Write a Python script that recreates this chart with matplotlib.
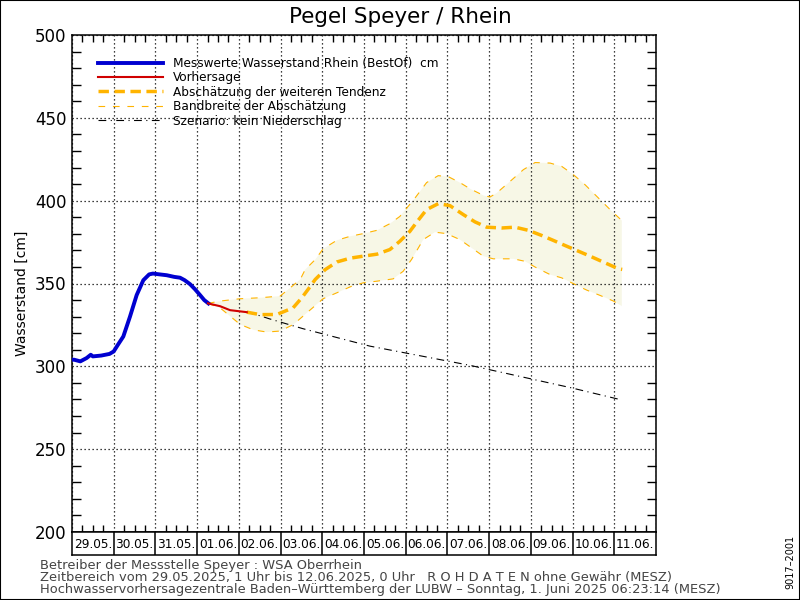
import matplotlib
matplotlib.use("Agg")
from matplotlib import pyplot as plt
from matplotlib.ticker import MultipleLocator
from matplotlib.patches import Rectangle

# time axis: days since 29.05.2025 00:00
day_labels = ["29.05.", "30.05.", "31.05.", "01.06.", "02.06.", "03.06.", "04.06.",
              "05.06.", "06.06.", "07.06.", "08.06.", "09.06.", "10.06.", "11.06."]

# measured water level [cm]
meas_t = [0.0, 0.05, 0.2, 0.35, 0.45, 0.5, 0.7, 0.9, 1.0, 1.1, 1.23, 1.39, 1.55, 1.71,
          1.85, 1.94, 2.1, 2.27, 2.45, 2.59, 2.7, 2.83, 2.95, 3.07, 3.17, 3.27]
meas_v = [304, 304, 303, 305, 307, 306, 306.5, 307.5, 309, 313, 318, 330, 343, 352,
          355.5, 356, 355.5, 355, 354, 353.5, 352, 349.6, 346.5, 343, 340, 338]

# forecast
fc_t = [3.26, 3.43, 3.55, 3.79, 4.19]
fc_v = [338, 337, 336.3, 333.9, 332.7]

# estimated further tendency
tend_t = [4.19, 4.51, 4.91, 5.30, 5.51, 5.67, 5.83, 6.07, 6.35, 6.67, 6.98, 7.31, 7.62,
          7.86, 8.10, 8.30, 8.50, 8.78, 9.06, 9.38, 9.66, 9.94, 10.30, 10.62, 10.94,
          11.26, 11.54, 11.86, 12.14, 12.42, 12.74, 13.10, 13.19]
tend_v = [332.7, 331.2, 331.3, 335.3, 341.4, 346.8, 352.4, 358.4, 363, 365.3, 366.5,
          367.7, 370.5, 375.5, 381.5, 388.2, 394.6, 398.2, 397, 391.6, 387.2, 384,
          383.5, 384, 382.1, 379, 376, 372.5, 369.5, 366.5, 362.9, 358.9, 358.5]

# range of the estimate
up_t = [3.26, 3.55, 4.03, 4.51, 4.99, 5.47, 5.59, 5.83, 6.02, 6.35, 6.67, 6.98, 7.31,
        7.62, 7.86, 8.22, 8.50, 8.78, 9.02, 9.30, 9.54, 9.86, 10.02, 10.18, 10.50,
        10.82, 11.10, 11.46, 11.74, 12.02, 12.30, 12.58, 12.90, 13.18]
up_v = [338, 339.4, 340.8, 341.4, 342.4, 352.4, 358.4, 364.4, 370.9, 376.1, 378.5,
        380.1, 382.1, 386.1, 390.5, 401.5, 410.9, 415.1, 414.5, 410.9, 407.2, 403.2,
        402.2, 404.6, 411.6, 418.7, 423, 422.7, 420.7, 415.7, 409.6, 402.6, 394.6, 388]
lo_t = [3.26, 3.55, 4.03, 4.35, 4.67, 4.99, 5.31, 5.63, 6.02, 6.35, 6.67, 6.98, 7.31,
        7.70, 7.94, 8.14, 8.42, 8.70, 8.98, 9.30, 9.58, 9.86, 10.10, 10.58, 10.86,
        11.14, 11.46, 11.74, 12.06, 12.34, 12.66, 12.98, 13.18]
lo_v = [338, 335.3, 325.3, 322, 320.7, 321.3, 325.3, 332.3, 340.8, 344.4, 348, 350.4,
        351.4, 352.8, 357.4, 364.5, 376.5, 381, 380.1, 376.5, 371.5, 366.5, 364.9,
        364.9, 363.4, 359.4, 355.4, 353.4, 349.4, 346, 342.8, 339.4, 336.4]

# scenario: no precipitation
scen_t = [4.19, 4.51, 4.73, 5.54, 7.14, 9.54, 11.94, 13.18]
scen_v = [332.7, 330.5, 328.7, 322.7, 312.2, 300.6, 287.2, 279.7]

plt.rcParams['font.family'] = 'DejaVu Sans'

fig = plt.figure(figsize=(8, 6), dpi=100)
ax = fig.add_axes([72 / 800, 1 - 532 / 600, 584 / 800, 497 / 600])

ax.fill(up_t + lo_t[::-1], up_v + lo_v[::-1], color='#f7f7e6', lw=0, zorder=1)
ax.plot(meas_t, meas_v, color='#0000d0', lw=2.8, zorder=5,
        label='Messwerte Wasserstand Rhein (BestOf)  cm')
ax.plot(fc_t, fc_v, color='#d00000', lw=1.5, zorder=5, label='Vorhersage')
ax.plot(tend_t, tend_v, color='#ffb400', lw=2.5, dashes=(3, 1.6), zorder=4,
        label='Abschätzung der weiteren Tendenz')
ax.plot(up_t, up_v, color='#ffb400', lw=0.8, dashes=(6, 7), zorder=3,
        label='Bandbreite der Abschätzung')
ax.plot(lo_t, lo_v, color='#ffb400', lw=0.8, dashes=(6, 7), zorder=3)
ax.plot(scen_t, scen_v, color='black', lw=0.8, dashes=(7, 4, 1, 4), zorder=3,
        label='Szenario: kein Niederschlag')

ax.set_xlim(0, 14)
ax.set_ylim(200, 500)
ax.xaxis.set_major_locator(MultipleLocator(1))
ax.xaxis.set_minor_locator(MultipleLocator(0.25))
ax.yaxis.set_major_locator(MultipleLocator(50))
ax.yaxis.set_minor_locator(MultipleLocator(10))
ax.tick_params(axis='x', which='major', length=0, labelbottom=False)
ax.tick_params(axis='x', which='minor', direction='in', length=5, width=1,
               top=True, bottom=True)
ax.tick_params(axis='y', which='major', length=0, pad=4, labelsize=12)
ax.tick_params(axis='y', which='minor', direction='in', length=6.5, width=1,
               left=True, right=True)
ax.grid(True, which='major', color='black', lw=0.9, linestyle=(0, (1, 2.2)))
for s in ax.spines.values():
    s.set_linewidth(1.1)

ax.legend(loc='upper left', bbox_to_anchor=(0.036, 0.966), frameon=False,
          fontsize=8.7, handlelength=5.4, handletextpad=0.85, labelspacing=0.12,
          borderaxespad=0)

# date boxes under the plot
dax = fig.add_axes([72 / 800, 1 - 555 / 600, 584 / 800, 23 / 600])
dax.set_xlim(0, 14)
dax.set_ylim(0, 1)
dax.set_xticks([])
dax.set_yticks([])
for s in dax.spines.values():
    s.set_linewidth(1.1)
for i, lab in enumerate(day_labels):
    if i > 0:
        dax.axvline(i, color='black', lw=1.1)
    dax.text(i + 0.5, 0.45, lab, ha='center', va='center', fontsize=8.7)

fig.text(0.5, 1 - 17 / 600, 'Pegel Speyer / Rhein', ha='center', va='center',
         fontsize=15.5)
fig.text(22 / 800, 1 - 293 / 600, 'Wasserstand [cm]', rotation=90,
         ha='center', va='center', fontsize=10)

foot = ["Betreiber der Messstelle Speyer : WSA Oberrhein",
        "Zeitbereich vom 29.05.2025, 1 Uhr bis 12.06.2025, 0 Uhr   R O H D A T E N ohne Gewähr (MESZ)",
        "Hochwasservorhersagezentrale Baden\u2013Württemberg der LUBW \u2013 Sonntag, 1. Juni 2025 06:23:14 (MESZ)"]
for k, line in enumerate(foot):
    fig.text(40 / 800, 1 - (566 + 12 * k) / 600, line, ha='left', va='center',
             fontsize=9.4, color='#444444')
fig.text(790 / 800, 1 - 562 / 600, '9017\u20132001', rotation=90, ha='center',
         va='center', fontsize=7)

fig.patches.append(Rectangle((0, 0), 1, 1, transform=fig.transFigure, fill=False,
                             lw=1.5, edgecolor='black'))

fig.savefig('out.png', dpi=100)
